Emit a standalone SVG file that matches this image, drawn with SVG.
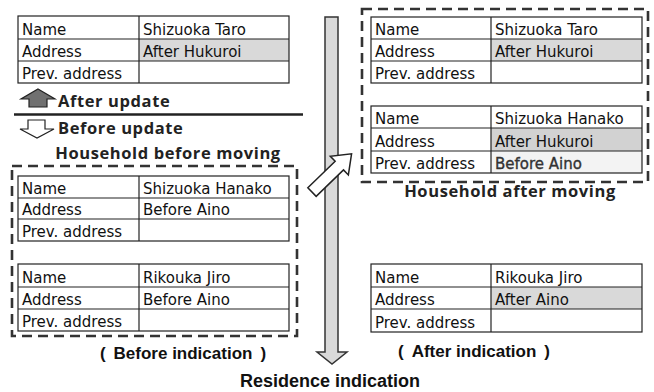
<svg xmlns="http://www.w3.org/2000/svg" width="654" height="392" viewBox="0 0 654 392">
<style>
.cell{fill:#fff;stroke:none}
.sh{fill:#d9d9d9;stroke:none}
.lt{fill:#f3f3f3;stroke:none}
.frame{fill:none;stroke:#222;stroke-width:1.2}
.ln{stroke:#222;stroke-width:1.2}
.t{font-family:"DejaVu Sans",sans-serif;font-size:15px;fill:#111}
.tb{font-family:"DejaVu Sans",sans-serif;font-size:15px;fill:#333;stroke:#333;stroke-width:0.35}
.h{font-family:"Open Sans",sans-serif;font-weight:bold;font-size:16.5px;letter-spacing:0.6px;fill:#222}
.g{font-family:"Liberation Sans",Arial,sans-serif;font-weight:bold;font-size:17px;fill:#111}
.dash{fill:none;stroke:#333;stroke-width:2.6;stroke-dasharray:10 6}
</style>

<g id="household-after-box">
<rect class="dash" x="362" y="9" width="286" height="173"/>
</g>
<g id="household-before-box">
<rect class="dash" x="12" y="166" width="285" height="170"/>
</g>

<g id="connectors">
<polygon points="325,17 338,17 338,352 347,352 332,364 317,352 325,352" fill="#d9d9d9" stroke="#333" stroke-width="1.5" stroke-linejoin="miter"/>
<polygon points="0,-6 38,-6 38,-13 55,0 38,13 38,6 0,6" transform="translate(312,192) rotate(-44)" fill="#fff" stroke="#222" stroke-width="1.5"/>
<polygon points="38,89 55,99 47,99 47,107 29,107 29,99 21,99" fill="#707070" stroke="#222" stroke-width="1.2"/>
<line x1="14" y1="114.5" x2="303" y2="114.5" stroke="#222" stroke-width="2.5"/>
<polygon points="28,120 45,120 45,129 54,129 37,138 20,129 28,129" fill="#fff" stroke="#222" stroke-width="1.2"/>
</g>

<g id="table-taro-before">
<rect class="cell" x="18" y="16" width="271" height="67"/>
<rect class="sh" x="139" y="39" width="150" height="22"/>
<rect class="frame" x="18" y="16" width="271" height="67"/>
<line class="ln" x1="18" y1="39" x2="289" y2="39"/>
<line class="ln" x1="18" y1="61" x2="289" y2="61"/>
<line class="ln" x1="139" y1="16" x2="139" y2="83"/>
<text class="t" x="22" y="35">Name</text>
<text class="t" x="143" y="35">Shizuoka Taro</text>
<text class="t" x="22" y="57">Address</text>
<text class="t" x="143" y="57">After Hukuroi</text>
<text class="t" x="22" y="79">Prev. address</text>
</g>

<g id="table-hanako-before">
<rect class="cell" x="18" y="176" width="271" height="65"/>
<rect class="frame" x="18" y="176" width="271" height="65"/>
<line class="ln" x1="18" y1="198" x2="289" y2="198"/>
<line class="ln" x1="18" y1="219" x2="289" y2="219"/>
<line class="ln" x1="139" y1="176" x2="139" y2="241"/>
<text class="t" x="22" y="194">Name</text>
<text class="t" x="143" y="194">Shizuoka Hanako</text>
<text class="t" x="22" y="215">Address</text>
<text class="t" x="143" y="215">Before Aino</text>
<text class="t" x="22" y="237">Prev. address</text>
</g>

<g id="table-jiro-before">
<rect class="cell" x="18" y="264" width="271" height="67"/>
<rect class="frame" x="18" y="264" width="271" height="67"/>
<line class="ln" x1="18" y1="287" x2="289" y2="287"/>
<line class="ln" x1="18" y1="309" x2="289" y2="309"/>
<line class="ln" x1="139" y1="264" x2="139" y2="331"/>
<text class="t" x="22" y="283">Name</text>
<text class="t" x="143" y="283">Rikouka Jiro</text>
<text class="t" x="22" y="305">Address</text>
<text class="t" x="143" y="305">Before Aino</text>
<text class="t" x="22" y="327">Prev. address</text>
</g>

<g id="table-taro-after">
<rect class="cell" x="371" y="17" width="271" height="66"/>
<rect class="sh" x="491" y="39" width="151" height="22"/>
<rect class="frame" x="371" y="17" width="271" height="66"/>
<line class="ln" x1="371" y1="39" x2="642" y2="39"/>
<line class="ln" x1="371" y1="61" x2="642" y2="61"/>
<line class="ln" x1="491" y1="17" x2="491" y2="83"/>
<text class="t" x="375" y="35">Name</text>
<text class="t" x="495" y="35">Shizuoka Taro</text>
<text class="t" x="375" y="57">Address</text>
<text class="t" x="495" y="57">After Hukuroi</text>
<text class="t" x="375" y="79">Prev. address</text>
</g>

<g id="table-hanako-after">
<rect class="cell" x="371" y="106" width="271" height="67"/>
<rect class="sh" x="491" y="128" width="151" height="23" style="fill:#d2d2d2"/>
<rect class="lt" x="491" y="151" width="151" height="22"/>
<rect class="frame" x="371" y="106" width="271" height="67"/>
<line class="ln" x1="371" y1="128" x2="642" y2="128"/>
<line class="ln" x1="371" y1="151" x2="642" y2="151"/>
<line class="ln" x1="491" y1="106" x2="491" y2="173"/>
<text class="t" x="375" y="124">Name</text>
<text class="t" x="495" y="124">Shizuoka Hanako</text>
<text class="t" x="375" y="147">Address</text>
<text class="t" x="495" y="147">After Hukuroi</text>
<text class="t" x="375" y="169">Prev. address</text>
<text class="tb" x="495" y="169">Before Aino</text>
</g>

<g id="table-jiro-after">
<rect class="cell" x="371" y="264" width="271" height="68"/>
<rect class="sh" x="491" y="287" width="151" height="22"/>
<rect class="frame" x="371" y="264" width="271" height="68"/>
<line class="ln" x1="371" y1="287" x2="642" y2="287"/>
<line class="ln" x1="371" y1="309" x2="642" y2="309"/>
<line class="ln" x1="491" y1="264" x2="491" y2="332"/>
<text class="t" x="375" y="283">Name</text>
<text class="t" x="495" y="283">Rikouka Jiro</text>
<text class="t" x="375" y="305">Address</text>
<text class="t" x="495" y="305">After Aino</text>
<text class="t" x="375" y="328">Prev. address</text>
</g>

<g id="labels">
<text class="h" x="58" y="107">After update</text>
<text class="h" x="58" y="134">Before update</text>
<text class="h" x="168" y="159" text-anchor="middle">Household before moving</text>
<text class="h" x="510" y="197" text-anchor="middle">Household after moving</text>
<text class="g" x="183" y="359" text-anchor="middle">(<tspan dx="8">Before indication</tspan><tspan dx="8">)</tspan></text>
<text class="g" x="474" y="357" text-anchor="middle">(<tspan dx="8">After indication</tspan><tspan dx="8">)</tspan></text>
<text class="g" x="330" y="387" text-anchor="middle" style="font-size:18px">Residence indication</text>
</g>
</svg>
